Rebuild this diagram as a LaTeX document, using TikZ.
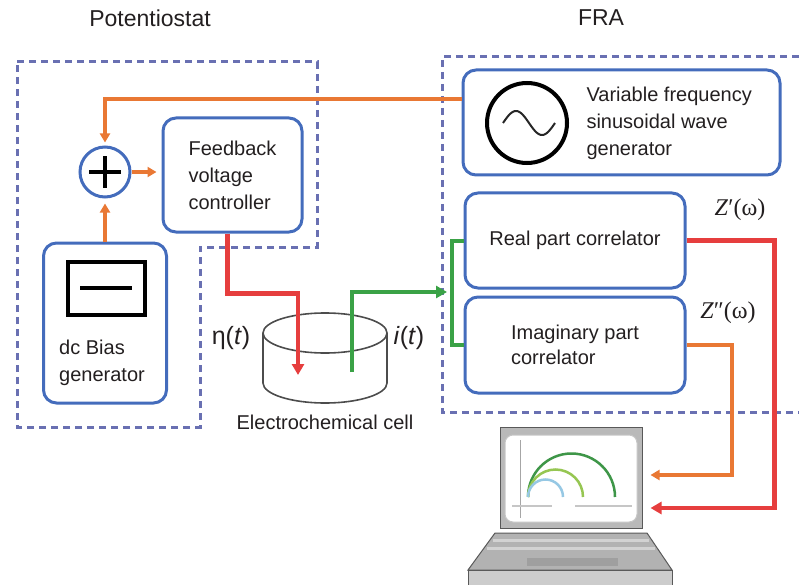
\documentclass[tikz,border=0pt]{standalone}
\usepackage{fontspec}
\setmainfont{Liberation Sans}
\newfontfamily\zfont{Liberation Serif}
\usepackage{tikz}
\usetikzlibrary{shapes,arrows,positioning,calc,arrows.meta}

\definecolor{ink}{RGB}{35,31,32}
\definecolor{boxblue}{RGB}{68,108,188}
\definecolor{dashblue}{RGB}{105,112,178}
\definecolor{sigorange}{RGB}{233,120,52}
\definecolor{sigred}{RGB}{230,62,62}
\definecolor{siggreen}{RGB}{58,162,70}
\definecolor{arcgreen}{RGB}{62,150,72}
\definecolor{arclime}{RGB}{150,198,82}
\definecolor{arcblue}{RGB}{150,200,228}

\begin{document}
\begin{tikzpicture}[x=1pt, y=-1pt, text=ink,
    font=\fontsize{20}{27}\selectfont,
    block/.style={draw=boxblue, line width=3pt, rounded corners=13pt, align=left, inner sep=0pt},
    frame/.style={draw=dashblue, line width=3pt, dash pattern=on 7pt off 5pt},
    orangeline/.style={draw=sigorange, line width=3.5pt, -{Triangle[length=9pt,width=10pt]}},
    redline/.style={draw=sigred, line width=4.5pt, -{Triangle[length=11pt,width=12pt]}},
    greenline/.style={draw=siggreen, line width=4.5pt, -{Triangle[length=11pt,width=12pt]}},
    cellline/.style={draw=gray!60!black, line width=1.6pt},
    ]
    \useasboundingbox (0,0) rectangle (799,585);

    % titles
    \node[font=\fontsize{23}{27}\selectfont] (ptitle) at (150,18) {Potentiostat};
    \node[font=\fontsize{23}{27}\selectfont] (ftitle) at (601,18) {FRA};

    % dashed enclosures
    \draw[frame] (17,62) -- (317,62) -- (317,247) -- (200,247) -- (200,427) -- (17,427) -- cycle;
    \draw[frame] (799,57) -- (442,57) -- (442,412) -- (799,412);

    % potentiostat blocks
    \node[circle, draw=boxblue, line width=3pt, minimum size=50pt] (sum) at (105,172) {};
    \draw[line width=3.5pt] ([xshift=-16pt]sum.center) -- ([xshift=16pt]sum.center)
        ([yshift=-16pt]sum.center) -- ([yshift=16pt]sum.center);
    \node[block, minimum width=139pt, minimum height=114pt] (feedback) at (232.5,175) {Feedback\\voltage\\controller};
    \node[block, minimum width=123pt, minimum height=160pt] (bias) at (105,323) {};
    \draw[line width=3.5pt] (68,262) rectangle (145,315);
    \draw[line width=3.5pt] (80,288) -- (132,288);
    \node[align=left] (biastext) at (102,363) {dc Bias\\generator};

    % FRA blocks
    \node[block, minimum width=317pt, minimum height=105pt] (sine) at (621.5,122.5) {};
    \draw[line width=4pt] (527,123) circle (40);
    \draw[line width=2pt, gray!30!black] plot[domain=0:360, samples=60] ({503+\x/360*52}, {123-12*sin(\x)});
    \node[align=left, anchor=west] (sinetext) at (583,123) {Variable frequency\\sinusoidal wave\\generator};
    \node[block, minimum width=220pt, minimum height=95pt] (realcorr) at (575,240.5) {Real part correlator};
    \node[block, minimum width=220pt, minimum height=96pt, font=\fontsize{20}{25}\selectfont] (imagcorr) at (575,345) {Imaginary part\\correlator};

    % electrochemical cell
    \coordinate (cell) at (325,333);
    \draw[cellline] (cell) ellipse (62 and 20);
    \draw[cellline] ([xshift=-62pt]cell) -- ++(0,50) arc (180:0:62 and 20) -- ++(0,-50);
    \node (celltext) at (325,422) {Electrochemical cell};
    \node[font=\fontsize{25}{27}\selectfont] (eta) at (231,338) {η(\textit{t})};
    \node[font=\fontsize{25}{27}\selectfont] (curr) at (409,338) {\textit{i}(\textit{t})};

    % laptop
    \node[draw=gray!70!black, fill=gray!55, line width=1pt, minimum width=142pt, minimum height=101pt, inner sep=0pt] (screen) at (571,477.5) {};
    \draw[fill=white, draw=gray!45, line width=1pt, rounded corners=8pt] (505,435) rectangle (637,522);
    \draw[gray!70, line width=1pt] (520,440) -- (520,518);
    \draw[gray!45, line width=1.5pt] (512,506) -- (552,506) (575,506) -- (632,506);
    \foreach \r/\c in {43.5/arcgreen, 27.5/arclime, 17.5/arcblue}
        \draw[\c, line width=2.5pt] (528,497) arc (180:360:\r);
    \draw[fill=gray!60, draw=gray!70!black, line width=1pt] (495,533) -- (647,533) -- (672,570) -- (468,570) -- cycle;
    \foreach \y/\a/\b in {540/493/649, 548/487/655}
        \draw[gray!35, line width=3pt] (\a,\y) -- (\b,\y);
    \draw[fill=gray!75, draw=gray!75] (527,558) rectangle (617,565);
    \draw[fill=gray!40, draw=gray!70!black, line width=1pt] (468,570) rectangle (672,590);

    % signal paths
    \draw[orangeline, shorten >=3pt] ([yshift=23.5pt]sine.west) -| (sum.north);
    \draw[orangeline, shorten >=5pt] (sum.east) -- (sum.east -| feedback.west);
    \draw[orangeline, shorten >=5pt] (bias.north) -- (sum.south);
    \coordinate (etatip) at (298,375);
    \draw[redline] ([xshift=-5pt]feedback.south) -- ++(0,60) -| (etatip);
    \coordinate (ifoot) at (352,372);
    \coordinate (bus) at (452,292);
    \draw[greenline, shorten >=5pt] (ifoot) |- (bus);
    \draw[draw=siggreen, line width=4pt] (realcorr.west) -| (bus) |- (imagcorr.west);
    \draw[redline, shorten >=8pt] (realcorr.east) -- ++(88,0) |- ([yshift=-30.5pt]screen.east);
    \draw[orangeline, line width=4pt, shorten >=8pt] (imagcorr.east) -- ++(45,0) |- ([yshift=2.5pt]screen.east);

    % impedance outputs
    \node[font=\zfont\fontsize{24}{27}\selectfont] (zre) at (740,210) {\textit{Z}′(ω)};
    \node[font=\zfont\fontsize{24}{27}\selectfont] (zim) at (728,313) {\textit{Z}″(ω)};
\end{tikzpicture}
\end{document}
